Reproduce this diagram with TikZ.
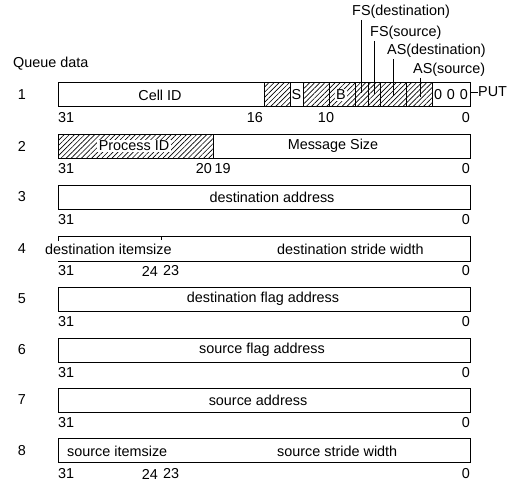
\documentclass[tikz,border=0pt]{standalone}
\usepackage{fontspec}
\setmainfont{Liberation Sans}
\usetikzlibrary{patterns.meta}
\begin{document}
\begin{tikzpicture}[x=1pt,y=-1pt,
  reg/.style={draw=black,line width=1pt},
  thin/.style={draw=black,line width=0.8pt},
  hatch/.style={pattern={Lines[angle=45,distance=3.6pt,line width=0.65pt]}},
  lbl/.style={font=\fontsize{14.4}{16}\selectfont,inner sep=0pt},
  wlbl/.style={lbl,fill=white,inner xsep=1.5pt,inner ysep=1pt},
  bitl/.style={lbl}
]
\useasboundingbox (0,0) rectangle (516,484);

% ---------- labels above row 1
\node[lbl,anchor=west] (fsd) at (352,12) {FS(destination)};
\node[lbl,anchor=west] (fss) at (370,33) {FS(source)};
\node[lbl,anchor=west] (asd) at (387,51) {AS(destination)};
\node[lbl,anchor=west] (ass) at (413,70) {AS(source)};
\node[lbl,anchor=west] (qd) at (13,64) {Queue data};

% ---------- row 1
\fill[hatch] (264,83) rectangle (290,107);
\fill[hatch] (303,83) rectangle (432,107);
\node[wlbl] (bfield) at (341,95) {B};
\draw[reg] (58,83) rectangle (470,107);
\foreach \xx in {264,290,303,329,355,368,380,406,432}
  \draw[thin] (\xx,83) -- (\xx,107);
\node[lbl] (cellid) at (160,95) {Cell ID};
\node[lbl] (sfield) at (296.5,95) {S};
\node[lbl] (zeros) at (451,95) {0\,\,0\,\,0};
\coordinate (fsdt) at (361,20);  \coordinate (fsdb) at (361,93);
\coordinate (fsst) at (374,41);  \coordinate (fssb) at (374,94);
\coordinate (asdt) at (393,59);  \coordinate (asdb) at (393,96);
\coordinate (asst) at (420,78);  \coordinate (assb) at (420,97);
\draw[thin] (fsdt) -- (fsdb);
\draw[thin] (fsst) -- (fssb);
\draw[thin] (asdt) -- (asdb);
\draw[thin] (asst) -- (assb);
\node[lbl,anchor=west] (put) at (478,92) {PUT};
\coordinate (putc) at (470,92);
\draw[thin] (putc) -- (put.west);
\node[lbl] (r1) at (22,95) {1};
\node[bitl,anchor=west] (r1a) at (58,118) {31};
\node[bitl,anchor=east] (r1b) at (263,118) {16};
\node[bitl] (r1c) at (326,118) {10};
\node[bitl,anchor=east] (r1d) at (470,118) {0};

% ---------- row 2
\fill[hatch] (58,134) rectangle (213,158);
\node[wlbl] (pid) at (134,146) {Process ID};
\draw[reg] (58,134) rectangle (470,158);
\draw[thin] (213,134) -- (213,158);
\node[lbl] (msize) at (333,146) {Message Size};
\node[lbl] (r2) at (22,146) {2};
\node[bitl,anchor=west] (r2a) at (58,169) {31};
\node[bitl,anchor=east] (r2b) at (212,169) {20};
\node[bitl,anchor=west] (r2c) at (214.5,169) {19};
\node[bitl,anchor=east] (r2d) at (470,169) {0};

% ---------- row 3
\draw[reg] (58,185) rectangle (470,209);
\node[lbl] (dadr) at (272,197) {destination address};
\node[lbl] (r3) at (22,197) {3};
\node[bitl,anchor=west] (r3a) at (58,220) {31};
\node[bitl,anchor=east] (r3d) at (470,220) {0};

% ---------- row 4
\draw[reg] (58,241) -- (58,236) -- (470,236) -- (470,261) -- (58,261);
\draw[thin] (161,236) -- (161,240);
\node[lbl,anchor=west] (dis) at (45,249) {destination itemsize};
\node[lbl,anchor=west] (dsw) at (277,249) {destination stride width};
\node[lbl] (r4) at (22,249) {4};
\node[bitl,anchor=west] (r4a) at (58,271) {31};
\node[bitl,anchor=east] (r4b) at (158,271) {24};
\node[bitl,anchor=west] (r4c) at (163,271) {23};
\node[bitl,anchor=east] (r4d) at (470,271) {0};

% ---------- row 5
\draw[reg] (58,287) rectangle (470,311);
\node[lbl] (dfa) at (263,299) {destination flag address};
\node[lbl] (r5) at (22,299) {5};
\node[bitl,anchor=west] (r5a) at (58,322) {31};
\node[bitl,anchor=east] (r5d) at (470,322) {0};

% ---------- row 6
\draw[reg] (58,338) rectangle (470,362);
\node[lbl] (sfa) at (262,350) {source flag address};
\node[lbl] (r6) at (22,350) {6};
\node[bitl,anchor=west] (r6a) at (58,373) {31};
\node[bitl,anchor=east] (r6d) at (470,373) {0};

% ---------- row 7
\draw[reg] (58,388) rectangle (470,412);
\node[lbl] (sadr) at (258,400) {source address};
\node[lbl] (r7) at (22,400) {7};
\node[bitl,anchor=west] (r7a) at (58,423) {31};
\node[bitl,anchor=east] (r7d) at (470,423) {0};

% ---------- row 8
\draw[reg] (58,438) rectangle (470,462);
\node[lbl,anchor=west] (sis) at (67,451) {source itemsize};
\node[lbl,anchor=west] (ssw) at (277,451) {source stride width};
\node[lbl] (r8) at (22,451) {8};
\node[bitl,anchor=west] (r8a) at (58,474) {31};
\node[bitl,anchor=east] (r8b) at (158,474) {24};
\node[bitl,anchor=west] (r8c) at (163,474) {23};
\node[bitl,anchor=east] (r8d) at (470,474) {0};
\end{tikzpicture}
\end{document}
